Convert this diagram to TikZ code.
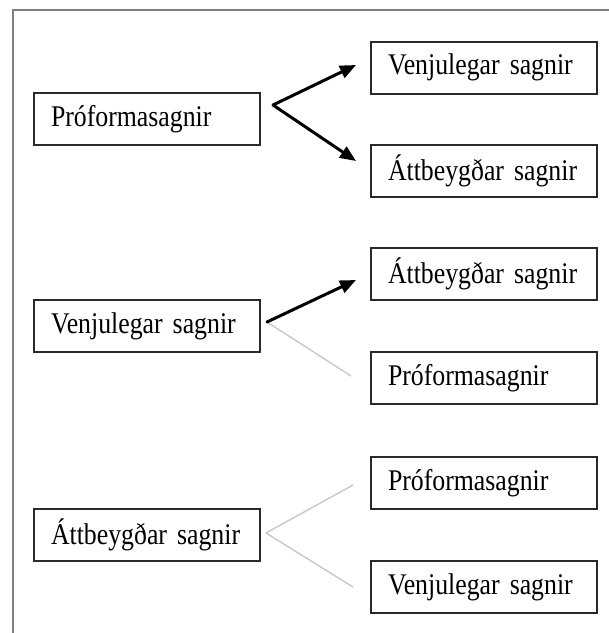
\documentclass[tikz,border=0pt]{standalone}
\usepackage{fontspec}
\setmainfont{Liberation Serif}[FakeStretch=0.86,WordSpace=0.8]
\usetikzlibrary{arrows.meta}
\definecolor{framegray}{HTML}{808080}
\definecolor{boxline}{HTML}{2A2A2A}
\definecolor{lightline}{HTML}{C8C8C8}
\tikzset{
  box/.style={draw=boxline, line width=2pt, anchor=north west,
    minimum width=226pt, minimum height=52pt, text width=192pt,
    inner xsep=17pt, inner ysep=0pt, align=left,
    font=\fontsize{30}{34}\selectfont},
  arr/.style={line width=3pt, black, line cap=round,
    -{Triangle[length=16pt,width=13pt]}},
  faint/.style={line width=1.4pt, lightline},
  frame/.style={line width=2pt, framegray}
}
\begin{document}
\begin{tikzpicture}[x=1pt,y=-1pt]
\useasboundingbox (0,0) rectangle (609,633);
\clip (0,0) rectangle (609,633);
\fill[white] (0,0) rectangle (609,633);
\draw[frame] (12.8,640) -- (12.8,10) -- (620,10);

% row 1
\node[box] (a) at (33,92) {\mbox{Próformasagnir}};
\node[box] (a1) at (370,40.5) {\mbox{Venjulegar sagnir}};
\node[box] (a2) at (370,144) {\mbox{Áttbeygðar sagnir}};
\coordinate (av) at (273,105);
\coordinate (at1) at (356,65);
\coordinate (at2) at (356,161);
\draw[arr] (av) -- (at1);
\draw[arr] (av) -- (at2);

% row 2
\node[box] (b) at (33,299) {\mbox{Venjulegar sagnir}};
\node[box] (b1) at (370,247) {\mbox{Áttbeygðar sagnir}};
\node[box] (b2) at (370,351) {\mbox{Próformasagnir}};
\coordinate (bv) at (267,322);
\coordinate (bt1) at (356,280);
\coordinate (bt2) at (351,376);
\draw[faint] (bv) -- (bt2);
\draw[arr] (bv) -- (bt1);

% row 3
\node[box] (c) at (33,508) {\mbox{Áttbeygðar sagnir}};
\node[box] (c1) at (370,456) {\mbox{Próformasagnir}};
\node[box] (c2) at (370,560) {\mbox{Venjulegar sagnir}};
\coordinate (cv) at (266,533);
\coordinate (ct1) at (353,485);
\coordinate (ct2) at (353,587);
\draw[faint] (cv) -- (ct1);
\draw[faint] (cv) -- (ct2);
\end{tikzpicture}
\end{document}
